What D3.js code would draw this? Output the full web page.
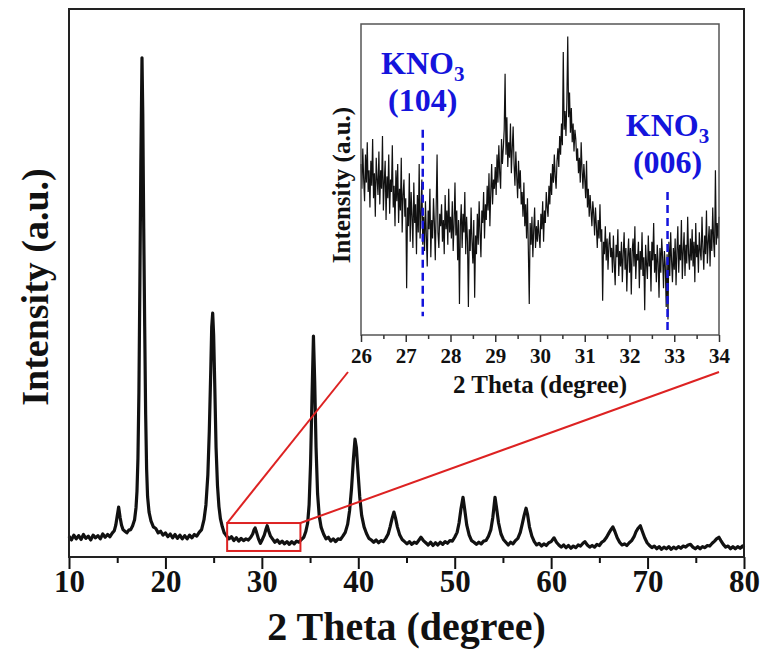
<!DOCTYPE html>
<html>
<head>
<meta charset="utf-8">
<script src="https://cdn.jsdelivr.net/npm/d3@7/dist/d3.min.js"></script>
<style>
  html, body { margin: 0; padding: 0; background: #fff; }
  svg text { font-family: "Liberation Serif", "Times New Roman", serif; font-weight: bold; }
</style>
</head>
<body>
<div id="chart"></div>
<script>
// main XRD pattern, [2theta, intensity (a.u.)]
var mainPattern = [
  [10.0, 38], [10.25, 31], [10.5, 40], [10.75, 33], [11.0, 39], [11.25, 32], [11.5, 41], [11.75, 34],
  [12.0, 38], [12.25, 31], [12.5, 40], [12.75, 35], [13.0, 39], [13.25, 33], [13.5, 42], [13.75, 36],
  [14.0, 41], [14.25, 37], [14.5, 44], [14.7, 48], [14.85, 58], [15.0, 75], [15.15, 91], [15.3, 72],
  [15.45, 58], [15.6, 50], [15.8, 47], [16.0, 44], [16.2, 49], [16.4, 50], [16.6, 57], [16.8, 68],
  [16.95, 90], [17.05, 120], [17.15, 180], [17.25, 300], [17.35, 500], [17.45, 720], [17.57, 911],
  [17.65, 810], [17.75, 600], [17.85, 420], [17.95, 260], [18.05, 160], [18.15, 110], [18.3, 82],
  [18.5, 66], [18.75, 55], [19.0, 52], [19.25, 44], [19.5, 47], [19.75, 40], [20.0, 44], [20.25, 37],
  [20.5, 42], [20.75, 35], [21.0, 41], [21.25, 34], [21.5, 40], [21.75, 33], [22.0, 39], [22.25, 33],
  [22.5, 40], [22.75, 35], [23.0, 41], [23.25, 38], [23.5, 45], [23.75, 50], [24.0, 68], [24.2, 95],
  [24.4, 150], [24.55, 230], [24.7, 340], [24.8, 420], [24.9, 445], [25.0, 405], [25.12, 310],
  [25.25, 200], [25.4, 130], [25.55, 92], [25.7, 70], [25.9, 55], [26.1, 44], [26.35, 38], [26.6, 33],
  [26.85, 37], [27.1, 30], [27.35, 35], [27.6, 29], [27.85, 34], [28.1, 30], [28.35, 33], [28.6, 31],
  [28.85, 36], [29.05, 42], [29.2, 50], [29.3, 53], [29.45, 45], [29.65, 33], [29.85, 25], [30.05, 32],
  [30.25, 40], [30.45, 52], [30.55, 57], [30.7, 48], [30.9, 38], [31.1, 33], [31.35, 27], [31.6, 31],
  [31.85, 25], [32.1, 29], [32.35, 24], [32.6, 28], [32.85, 23], [33.1, 28], [33.35, 24], [33.6, 29],
  [33.85, 27], [34.1, 32], [34.35, 36], [34.55, 46], [34.75, 62], [34.9, 95], [35.05, 170], [35.2, 290],
  [35.35, 403], [35.48, 320], [35.62, 200], [35.78, 115], [35.95, 75], [36.15, 54], [36.4, 42],
  [36.65, 33], [36.9, 36], [37.15, 29], [37.4, 33], [37.65, 28], [37.9, 33], [38.15, 32], [38.4, 38],
  [38.65, 45], [38.9, 60], [39.1, 85], [39.3, 125], [39.5, 180], [39.66, 215], [39.8, 200], [39.95, 160],
  [40.15, 110], [40.35, 76], [40.6, 55], [40.85, 43], [41.1, 34], [41.35, 31], [41.6, 27], [41.85, 31],
  [42.1, 26], [42.35, 30], [42.6, 28], [42.85, 34], [43.1, 42], [43.3, 55], [43.5, 70], [43.7, 82],
  [43.85, 72], [44.05, 55], [44.3, 40], [44.55, 32], [44.8, 28], [45.05, 24], [45.3, 28], [45.55, 23],
  [45.8, 27], [46.05, 25], [46.3, 31], [46.5, 36], [46.75, 30], [47.0, 26], [47.25, 22], [47.5, 27],
  [47.75, 21], [48.0, 26], [48.25, 22], [48.5, 27], [48.75, 23], [49.0, 28], [49.25, 25], [49.5, 30],
  [49.75, 29], [50.0, 36], [50.25, 45], [50.45, 62], [50.65, 88], [50.86, 109], [51.05, 85], [51.25, 58],
  [51.5, 40], [51.75, 30], [52.0, 27], [52.25, 23], [52.5, 27], [52.75, 24], [53.0, 29], [53.25, 30],
  [53.5, 38], [53.75, 50], [53.95, 72], [54.18, 109], [54.35, 88], [54.55, 62], [54.8, 42], [55.05, 32],
  [55.3, 27], [55.55, 22], [55.8, 27], [56.05, 24], [56.3, 30], [56.55, 34], [56.8, 45], [57.0, 60],
  [57.2, 76], [57.4, 89], [57.55, 78], [57.75, 55], [58.0, 38], [58.25, 28], [58.5, 22], [58.75, 25],
  [59.0, 20], [59.25, 24], [59.5, 21], [59.75, 26], [60.0, 28], [60.3, 35], [60.55, 27], [60.8, 22],
  [61.05, 18], [61.3, 22], [61.55, 17], [61.8, 21], [62.05, 16], [62.3, 20], [62.55, 17], [62.8, 22],
  [63.05, 20], [63.3, 25], [63.5, 28], [63.75, 22], [64.0, 18], [64.25, 21], [64.5, 18], [64.75, 23],
  [65.0, 21], [65.25, 27], [65.5, 30], [65.75, 36], [66.0, 44], [66.2, 50], [66.4, 55], [66.6, 47],
  [66.85, 35], [67.1, 27], [67.35, 22], [67.6, 24], [67.85, 21], [68.1, 26], [68.35, 30], [68.6, 37],
  [68.8, 46], [69.0, 52], [69.25, 57], [69.45, 47], [69.7, 35], [69.95, 26], [70.2, 21], [70.45, 17],
  [70.7, 20], [70.95, 15], [71.2, 19], [71.45, 14], [71.7, 18], [71.95, 15], [72.2, 19], [72.45, 14],
  [72.7, 18], [72.95, 15], [73.2, 19], [73.45, 16], [73.7, 20], [73.95, 18], [74.2, 22], [74.45, 23],
  [74.7, 18], [74.95, 15], [75.2, 19], [75.45, 15], [75.7, 19], [75.95, 17], [76.2, 21], [76.45, 20],
  [76.7, 25], [76.95, 29], [77.15, 33], [77.4, 36], [77.6, 30], [77.85, 23], [78.1, 18], [78.35, 20],
  [78.6, 15], [78.85, 19], [79.1, 15], [79.35, 19], [79.6, 16], [79.85, 20], [80.0, 17]
];

// zoomed scan 26-34 deg, one value every 0.02 deg
var insetStart = 26;
var insetStep = 0.02;
var insetCounts = [
  55, 47, 60, 50, 43, 58, 49, 62, 46, 53,  41, 56, 48, 63, 44, 52, 38, 57, 50, 45,
  59, 42, 53, 47, 64, 40, 49, 56, 37, 51,  44, 58, 39, 50, 46, 61, 41, 48, 35, 53,
  43, 55, 36, 47, 40, 57, 33, 45, 50, 38,
  44, 15, 41, 35, 52, 30, 46, 38, 28, 49,  36, 42, 26, 45, 33, 55, 31, 39, 50, 29,
  38, 27, 43, 32, 22, 40, 34, 47, 25, 37,  31, 44, 36, 24, 41, 58, 33, 28, 39, 35,
  42, 30, 37, 26, 45, 34, 40, 29, 47, 33,
  38, 31, 43, 27, 36, 49, 32, 40, 24, 37,  10, 35, 42, 28, 39, 33, 46, 26, 38, 30,
  9, 34, 27, 41, 30, 23, 37, 12, 32, 26,   39, 29, 43, 33, 25, 40, 36, 46, 31, 42,
  37, 48, 40, 52, 35, 46, 55, 42, 50, 47,
  54, 45, 58, 49, 61, 52, 47, 63, 55, 60,  66, 84, 58, 70, 54, 62, 57, 68, 52, 60,
  67, 55, 48, 59, 51, 44, 56, 47, 53, 42,  46, 38, 49, 35, 42, 31, 44, 27, 10, 36,
  29, 38, 25, 34, 41, 28, 35, 30, 37, 32,
  28, 39, 34, 43, 30, 40, 36, 46, 41, 38,  48, 42, 52, 45, 55, 49, 58, 51, 47, 56,
  60, 54, 64, 58, 68, 61, 91, 66, 72, 64,  75, 96, 70, 78, 65, 73, 62, 68, 59, 66,
  63, 56, 60, 52, 57, 49, 62, 53, 47, 55,
  50, 44, 56, 41, 47, 38, 45, 40, 35, 43,  39, 32, 41, 35, 28, 37, 31, 42, 30, 34,
  11, 30, 26, 35, 24, 31, 21, 29, 33, 25,  28, 20, 32, 23, 16, 29, 25, 34, 19, 27,
  22, 30, 17, 26, 33, 21, 28, 14, 25, 31,
  20, 28, 13, 27, 31, 22, 35, 18, 26, 24,  30, 15, 27, 21, 33, 19, 25, 8, 29, 23,
  18, 32, 22, 27, 14, 30, 24, 36, 20, 26,  17, 29, 23, 12, 28, 20, 31, 25, 15, 27,
  22, 9, 26, 5, 30, 19, 33, 24, 17, 28,
  21, 31, 16, 27, 35, 20, 29, 24, 37, 18,  27, 33, 19, 29, 23, 38, 26, 21, 31, 24,
  34, 22, 30, 17, 36, 25, 29, 20, 33, 27,  24, 38, 28, 21, 32, 26, 40, 23, 30, 35,
  22, 34, 27, 41, 30, 25, 53, 29, 36, 31,
  38
];

var mainTicks = [10, 20, 30, 40, 50, 60, 70, 80];
var mainMinorTicks = [15, 25, 35, 45, 55, 65, 75];
var insetTicks = [26, 27, 28, 29, 30, 31, 32, 33, 34];
var insetMinorTicks = [26.5, 27.5, 28.5, 29.5, 30.5, 31.5, 32.5, 33.5];

// KNO3 reference reflections shown in the inset
var knoPeaks = [
  { theta: 27.38, hkl: '(104)', top: 66 },
  { theta: 32.85, hkl: '(006)', top: 46 }
];

// region of the main pattern that the inset enlarges
var zoomBox = { x0: 26.4, x1: 34, y0: 11, y1: 62 };

function drawChart() {
  var width = 765,
    height = 659,
    padLeft = 69,
    padRight = 744,
    padTop = 9,
    padBottom = 557;

  var ink = '#111',
    red = '#dd2222',
    blue = '#1414dc';

  var svg = d3.select('#chart').append('svg')
    .attr('width', width)
    .attr('height', height);

  var x = d3.scaleLinear().domain([10, 80]).range([padLeft, padRight]);
  var y = d3.scaleLinear().domain([0, 1000]).range([padBottom, padTop]);

  // main curve
  svg.append('path')
    .datum(mainPattern)
    .attr('fill', 'none')
    .attr('stroke', ink)
    .attr('stroke-width', 3.2)
    .attr('stroke-linejoin', 'round')
    .attr('d', d3.line()
      .x(function (d) { return x(d[0]); })
      .y(function (d) { return y(d[1]); }));

  // main axes
  var gx = svg.append('g')
    .attr('transform', 'translate(0,' + padBottom + ')')
    .call(d3.axisBottom(x).tickValues(mainTicks).tickSize(12).tickFormat(d3.format('d')));
  gx.select('.domain').remove();
  gx.selectAll('line').attr('stroke', ink).attr('stroke-width', 2);
  gx.selectAll('text')
    .attr('y', 35)
    .attr('dy', 0)
    .attr('fill', ink)
    .attr('font-size', 31)
    .attr('font-family', '"Liberation Serif", serif')
    .attr('font-weight', 'bold');

  var gxMinor = svg.append('g')
    .attr('transform', 'translate(0,' + padBottom + ')')
    .call(d3.axisBottom(x).tickValues(mainMinorTicks).tickSize(6).tickFormat(''));
  gxMinor.select('.domain').remove();
  gxMinor.selectAll('line').attr('stroke', ink).attr('stroke-width', 2);

  svg.append('rect')
    .attr('x', padLeft)
    .attr('y', padTop)
    .attr('width', padRight - padLeft)
    .attr('height', padBottom - padTop)
    .attr('fill', 'none')
    .attr('stroke', '#222')
    .attr('stroke-width', 2);

  svg.append('text')
    .attr('x', (padLeft + padRight) / 2)
    .attr('y', 640)
    .attr('text-anchor', 'middle')
    .attr('font-size', 40)
    .attr('fill', ink)
    .text('2 Theta (degree)');

  svg.append('text')
    .attr('transform', 'translate(48,287) rotate(-90)')
    .attr('text-anchor', 'middle')
    .attr('font-size', 38)
    .attr('fill', ink)
    .text('Intensity (a.u.)');

  // inset
  var inL = 361, inR = 719, inT = 24, inB = 335;
  var ix = d3.scaleLinear().domain([26, 34]).range([inL, inR]);
  var iy = d3.scaleLinear().domain([0, 100]).range([inB, inT]);

  var inset = svg.append('g').classed('inset', true);

  inset.append('rect')
    .attr('x', inL)
    .attr('y', inT)
    .attr('width', inR - inL)
    .attr('height', inB - inT)
    .attr('fill', '#fff');

  inset.append('path')
    .datum(insetCounts)
    .attr('fill', 'none')
    .attr('stroke', ink)
    .attr('stroke-width', 1.2)
    .attr('d', d3.line()
      .x(function (d, i) { return ix(insetStart + i * insetStep); })
      .y(function (d) { return iy(d); }));

  inset.selectAll('.kno-line')
    .data(knoPeaks)
    .enter()
    .append('line')
    .classed('kno-line', true)
    .attr('x1', function (d) { return ix(d.theta); })
    .attr('x2', function (d) { return ix(d.theta); })
    .attr('y1', function (d) { return iy(d.top); })
    .attr('y2', function (d, i) { return i === 0 ? iy(6) : iy(0); })
    .attr('stroke', blue)
    .attr('stroke-width', 2.5)
    .attr('stroke-dasharray', '8,5');

  var knoLabels = inset.selectAll('.kno-label')
    .data(knoPeaks)
    .enter()
    .append('g')
    .classed('kno-label', true)
    .attr('transform', function (d) {
      return 'translate(' + ix(d.theta) + ',' + (iy(d.top) - 56) + ')';
    });

  var kno = knoLabels.append('text')
    .attr('text-anchor', 'middle')
    .attr('font-size', 32)
    .attr('fill', blue);
  kno.append('tspan').text('KNO');
  kno.append('tspan').attr('font-size', 21).attr('dy', 7).text('3');

  knoLabels.append('text')
    .attr('y', 37)
    .attr('text-anchor', 'middle')
    .attr('font-size', 32)
    .attr('fill', blue)
    .text(function (d) { return d.hkl; });

  inset.append('rect')
    .attr('x', inL)
    .attr('y', inT)
    .attr('width', inR - inL)
    .attr('height', inB - inT)
    .attr('fill', 'none')
    .attr('stroke', '#555')
    .attr('stroke-width', 1.5);

  var ixAxis = inset.append('g')
    .attr('transform', 'translate(0,' + inB + ')')
    .call(d3.axisBottom(ix).tickValues(insetTicks).tickSize(7).tickFormat(d3.format('d')));
  ixAxis.select('.domain').remove();
  ixAxis.selectAll('line').attr('stroke', '#333').attr('stroke-width', 1.5);
  ixAxis.selectAll('text')
    .attr('y', 28)
    .attr('dy', 0)
    .attr('fill', ink)
    .attr('font-size', 21)
    .attr('font-family', '"Liberation Serif", serif')
    .attr('font-weight', 'bold');

  var ixMinor = inset.append('g')
    .attr('transform', 'translate(0,' + inB + ')')
    .call(d3.axisBottom(ix).tickValues(insetMinorTicks).tickSize(4).tickFormat(''));
  ixMinor.select('.domain').remove();
  ixMinor.selectAll('line').attr('stroke', '#333').attr('stroke-width', 1.5);

  inset.append('text')
    .attr('x', (inL + inR) / 2)
    .attr('y', 393)
    .attr('text-anchor', 'middle')
    .attr('font-size', 25)
    .attr('fill', ink)
    .text('2 Theta (degree)');

  inset.append('text')
    .attr('transform', 'translate(350,185) rotate(-90)')
    .attr('text-anchor', 'middle')
    .attr('font-size', 25)
    .attr('fill', ink)
    .text('Intensity (a.u.)');

  // zoom box and the two guide lines to the inset
  svg.append('rect')
    .attr('x', x(zoomBox.x0))
    .attr('y', y(zoomBox.y1))
    .attr('width', x(zoomBox.x1) - x(zoomBox.x0))
    .attr('height', y(zoomBox.y0) - y(zoomBox.y1))
    .attr('fill', 'none')
    .attr('stroke', red)
    .attr('stroke-width', 2);

  svg.append('line')
    .attr('x1', x(zoomBox.x0)).attr('y1', y(zoomBox.y1))
    .attr('x2', ix(26) - 13).attr('y2', inB + 37)
    .attr('stroke', red).attr('stroke-width', 2);

  svg.append('line')
    .attr('x1', x(zoomBox.x1)).attr('y1', y(zoomBox.y1))
    .attr('x2', ix(34)).attr('y2', inB + 37)
    .attr('stroke', red).attr('stroke-width', 2);
}

drawChart();
</script>
</body>
</html>
